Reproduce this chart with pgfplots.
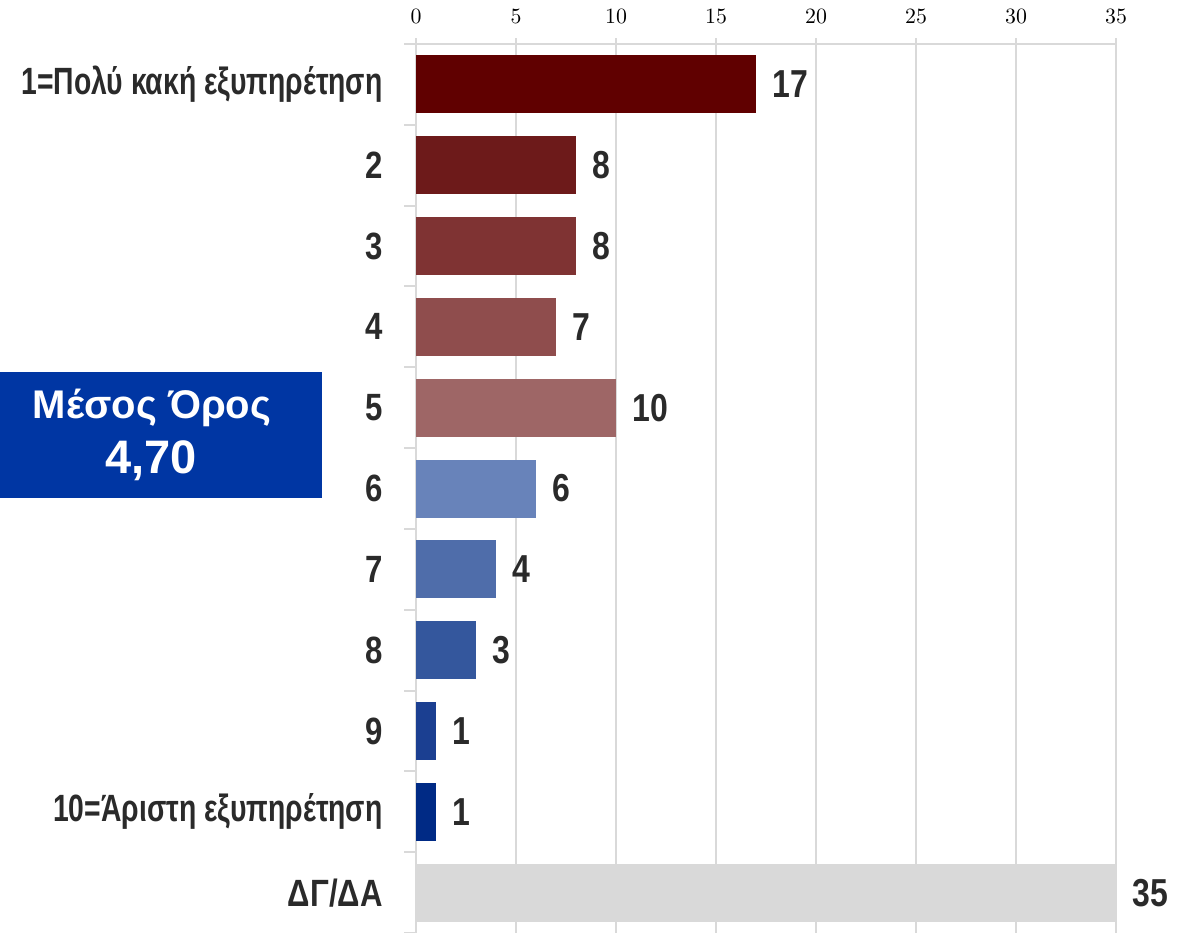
\documentclass[border=0pt]{standalone}
\usepackage{pgfplots}
\pgfplotsset{compat=1.18}
\usepackage{fontspec}
\setmainfont{Liberation Sans}
\newfontfamily\lab{Liberation Sans}[FakeStretch=0.82]
\newfontfamily\labw{Liberation Sans}[FakeStretch=0.745]
\definecolor{boxblue}{HTML}{0036A3}
\definecolor{gridgray}{HTML}{D9D9D9}
\definecolor{txt}{HTML}{2A2A2A}
\definecolor{c1}{HTML}{600000}
\definecolor{c2}{HTML}{6D1A1A}
\definecolor{c3}{HTML}{7F3333}
\definecolor{c4}{HTML}{8F4D4D}
\definecolor{c5}{HTML}{9E6666}
\definecolor{c6}{HTML}{6883BA}
\definecolor{c7}{HTML}{4F6DAA}
\definecolor{c8}{HTML}{34579D}
\definecolor{c9}{HTML}{1B3F91}
\definecolor{c10}{HTML}{002A85}
\definecolor{c11}{HTML}{D9D9D9}
\begin{document}
\begin{tikzpicture}[x=1bp,y=1bp]
\path[use as bounding box] (0,0) rectangle (595,-466.5);
\fill[boxblue] (0,-186) rectangle (161,-249);
\node[white, font=\bfseries\fontsize{20bp}{24bp}\selectfont, inner sep=0pt] at (76,-204) {Μέσος Όρος};
\node[white, font=\bfseries\fontsize{23.5bp}{28bp}\selectfont, inner sep=0pt] at (75.5,-230.5) {4,70};
\begin{axis}[
  at={(208bp,-22bp)}, anchor=north west,
  scale only axis, width=350bp, height=444.5bp,
  xmin=0, xmax=35, ymin=-0.5, ymax=10.5,
  y dir=reverse,
  axis x line*=top, axis y line*=left,
  x axis line style={draw=gridgray, line width=1bp, -},
  y axis line style={draw=gridgray, line width=1bp, -},
  xtick={0,5,...,35},
  tick align=outside,
  major tick length=3bp,
  minor tick length=6bp,
  x tick style={draw=gridgray, line width=1bp},
  xmajorgrids,
  grid style={draw=gridgray, line width=1bp},
  xticklabel style={inner sep=0pt, yshift=7bp, font=\fontsize{10.9bp}{13bp}\selectfont},
  ytick={0,...,10},
  minor ytick={-0.5,0.5,...,10.5},
  major y tick style={draw=none},
  minor y tick style={draw=gridgray, line width=1bp},
  yticklabels={{\labw 1=Πολύ κακή εξυπηρέτηση},2,3,4,5,6,7,8,9,{\labw 10=Άριστη εξυπηρέτηση},{ΔΓ/ΔΑ}},
  yticklabel style={inner sep=0pt, xshift=-13.5bp, text=txt, font=\lab\bfseries\fontsize{19bp}{22bp}\selectfont},
  xbar, bar width=29bp, bar shift=0pt,
  nodes near coords={\pgfmathprintnumber[assume math mode=true]{\pgfplotspointmeta}},
  point meta=x,
  nodes near coords style={anchor=west, inner sep=0pt, xshift=8bp, text=txt, font=\lab\bfseries\fontsize{19.5bp}{22bp}\selectfont},
  every axis plot/.append style={draw=none},
]
\addplot[fill=c1] coordinates {(17,0)};
\addplot[fill=c2] coordinates {(8,1)};
\addplot[fill=c3] coordinates {(8,2)};
\addplot[fill=c4] coordinates {(7,3)};
\addplot[fill=c5] coordinates {(10,4)};
\addplot[fill=c6] coordinates {(6,5)};
\addplot[fill=c7] coordinates {(4,6)};
\addplot[fill=c8] coordinates {(3,7)};
\addplot[fill=c9] coordinates {(1,8)};
\addplot[fill=c10] coordinates {(1,9)};
\addplot[fill=c11] coordinates {(35,10)};
\end{axis}
\end{tikzpicture}
\end{document}
